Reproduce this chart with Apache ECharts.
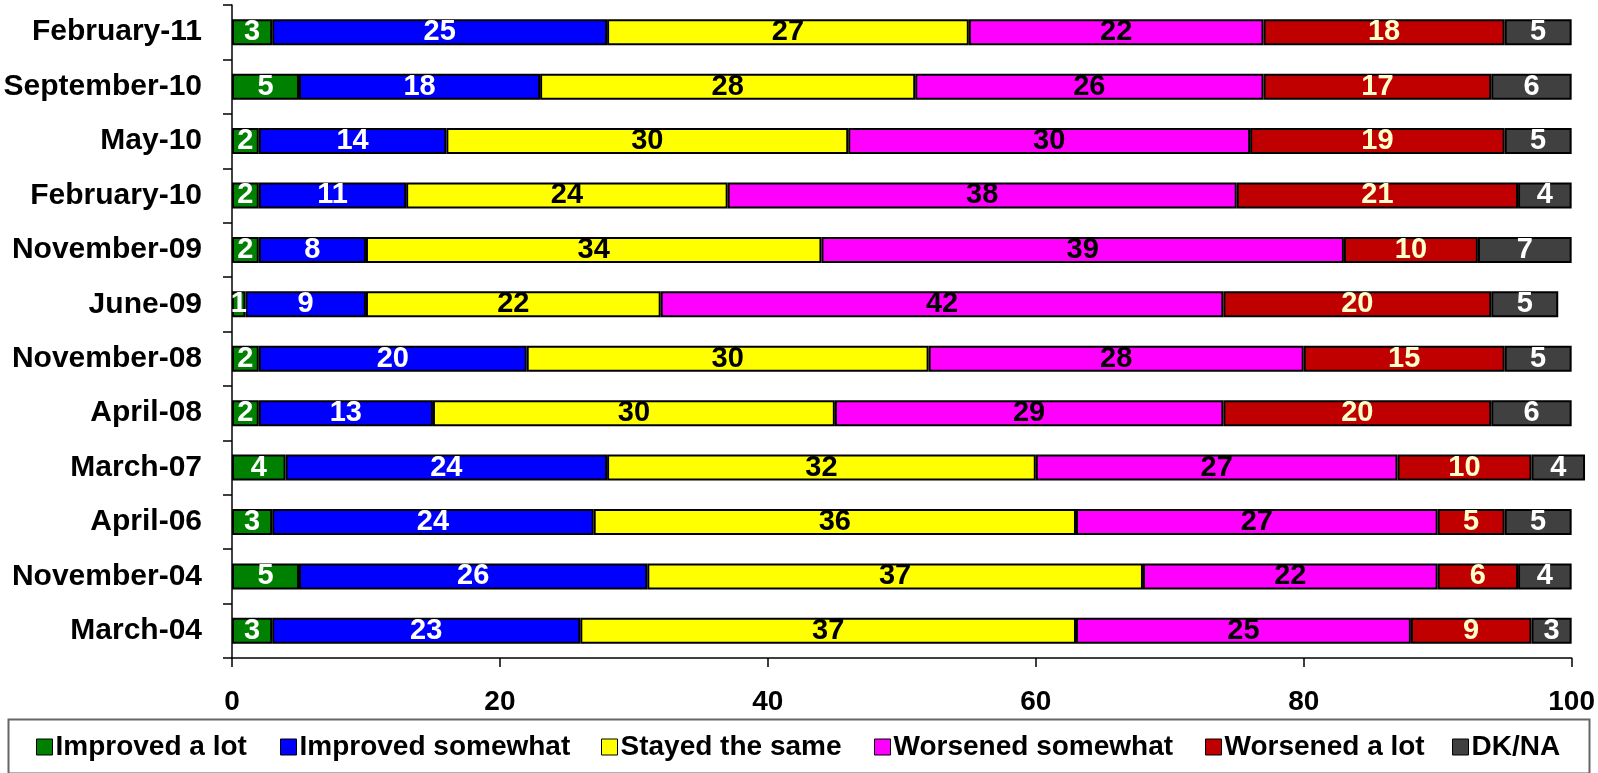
<!DOCTYPE html>
<html>
<head>
<meta charset="utf-8">
<script src="https://cdn.jsdelivr.net/npm/echarts@6/dist/echarts.min.js"></script>
<style>
html,body{margin:0;padding:0;background:#fff;}
#c{width:1598px;height:773px;}
</style>
</head>
<body>
<div id="c"></div>
<script>
const categories = ["February-11","September-10","May-10","February-10","November-09","June-09","November-08","April-08","March-07","April-06","November-04","March-04"];
const seriesNames = ["Improved a lot","Improved somewhat","Stayed the same","Worsened somewhat","Worsened a lot","DK/NA"];
const improvedALot      = [3,5,2,2,2,1,2,2,4,3,5,3];
const improvedSomewhat  = [25,18,14,11,8,9,20,13,24,24,26,23];
const stayedSame        = [27,28,30,24,34,22,30,30,32,36,37,37];
const worsenedSomewhat  = [22,26,30,38,39,42,28,29,27,27,22,25];
const worsenedALot      = [18,17,19,21,10,20,15,20,10,5,6,9];
const dkna              = [5,6,5,4,7,5,5,6,4,5,4,3];
const xTicks = [0,20,40,60,80,100];

const values = [improvedALot, improvedSomewhat, stayedSame, worsenedSomewhat, worsenedALot, dkna];
const colors = ["#008000","#0000FF","#FFFF00","#FF00FF","#C00000","#404040"];
const labelColors = ["#FFFFFF","#FFFFFF","#000000","#000000","#FFFFCC","#FFFFFF"];
const legendLeft = [36,280,601,874,1205,1452];

const FONT = "'Liberation Sans', Arial, sans-serif";

const chart = echarts.init(document.getElementById('c'), null, {renderer:'canvas'});

const series = seriesNames.map((name,i)=>({
  name: name,
  type: 'bar',
  stack: 'total',
  barWidth: 26,
  clip: false,
  data: values[i],
  itemStyle: {color: colors[i], borderColor: '#000', borderWidth: 2},
  label: {
    show: true, position: 'inside',
    color: labelColors[i], fontFamily: FONT, fontWeight: 'bold', fontSize: 29
  },
  emphasis: {disabled: true}
}));

const legends = seriesNames.map((name,i)=>({
  data: [name],
  left: legendLeft[i],
  top: 733,
  padding: 0,
  icon: 'rect',
  itemWidth: 16,
  itemHeight: 16,
  itemGap: 0,
  itemStyle: {borderColor: '#000', borderWidth: 1},
  textStyle: {fontFamily: FONT, fontWeight: 'bold', fontSize: 28, color: '#000', padding: [0,0,0,-2]}
}));

chart.setOption({
  animation: false,
  backgroundColor: '#fff',
  color: colors,
  grid: {left: 232, right: 26, top: 5, bottom: 115, containLabel: false},
  xAxis: {
    type: 'value', min: 0, max: 100, interval: 20,
    axisLine: {show: true, lineStyle: {color: '#000', width: 1.5}},
    axisTick: {show: true, length: 9, lineStyle: {color: '#000', width: 1.5}},
    splitLine: {show: false},
    axisLabel: {
      margin: 30, color: '#000', fontFamily: FONT, fontWeight: 'bold', fontSize: 28,
      formatter: v => xTicks.includes(v) ? String(v) : ''
    }
  },
  yAxis: {
    type: 'category', data: categories, inverse: true,
    axisLine: {show: true, lineStyle: {color: '#000', width: 1.5}},
    axisTick: {show: true, length: 9, lineStyle: {color: '#000', width: 1.5}},
    axisLabel: {margin: 30, color: '#000', fontFamily: FONT, fontWeight: 'bold', fontSize: 30}
  },
  legend: legends,
  graphic: [{
    type: 'rect', left: 6, top: 717, z: -1,
    shape: {width: 1581, height: 54},
    style: {fill: 'none', stroke: '#666', lineWidth: 2}
  }],
  series: series
});
</script>
</body>
</html>
